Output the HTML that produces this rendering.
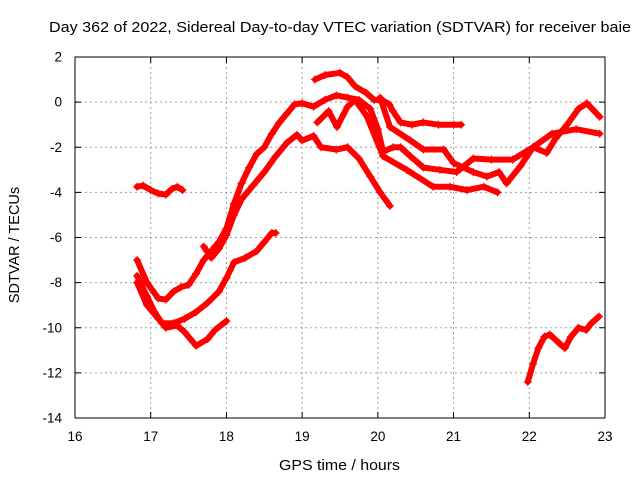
<!DOCTYPE html>
<html><head><meta charset="utf-8"><style>
body{margin:0;background:#fff}
svg{display:block;font-family:"Liberation Sans",sans-serif}
</style></head><body>
<svg id="chart" width="640" height="480">
<text x="49" y="32" font-size="15" textLength="582" lengthAdjust="spacingAndGlyphs">Day 362 of 2022, Sidereal Day-to-day VTEC variation (SDTVAR) for receiver baie</text>
<text x="279" y="470" font-size="15" textLength="121" lengthAdjust="spacingAndGlyphs">GPS time / hours</text>
<text x="19" y="245" font-size="14.5" text-anchor="middle" transform="rotate(-90 19 245)">SDTVAR / TECUs</text>
<g id="grid"></g><g id="series"></g>
<rect x="75" y="57" width="530" height="361" fill="none" stroke="#000"/>
</svg>
<script>
const xTicks=[16,17,18,19,20,21,22,23];
const yTicks=[2,0,-2,-4,-6,-8,-10,-12,-14];
const sA_t=[16.82,16.9,17.0,17.1,17.2,17.28,17.35,17.42];
const sA_v=[-3.75,-3.7,-3.9,-4.05,-4.1,-3.85,-3.75,-3.9];
const sB_t=[16.82,16.95,17.1,17.2,17.3,17.4,17.5,17.6,17.7,17.8,17.9,18.0,18.1,18.2,18.3,18.4,18.5,18.6,18.7,18.8,18.9,19.0,19.15,19.3,19.45,19.6,19.75,19.9,20.0,20.07,20.2,20.3,20.43,20.6,20.82,21.04,21.26,21.5,21.78,22.05,22.3,22.62,22.93];
const sB_v=[-7.0,-8.0,-8.7,-8.75,-8.4,-8.2,-8.1,-7.6,-7.0,-6.6,-6.2,-5.6,-4.5,-3.6,-2.9,-2.3,-2.0,-1.4,-0.9,-0.5,-0.1,-0.05,-0.2,0.1,0.3,0.2,0.1,-0.3,-1.2,-2.2,-2.0,-2.0,-2.4,-2.9,-3.0,-3.1,-2.5,-2.55,-2.55,-2.0,-1.4,-1.2,-1.4];
const sR_t=[17.7,17.8,17.9,18.0,18.1,18.2,18.35,18.5,18.65,18.8,18.93,19.0,19.15,19.25,19.45,19.6,19.75,19.9,20.03,20.16];
const sR_v=[-6.4,-6.9,-6.5,-5.9,-5.0,-4.3,-3.7,-3.1,-2.4,-1.8,-1.45,-1.7,-1.5,-2.0,-2.1,-2.0,-2.5,-3.3,-4.0,-4.6];
const sP_t=[19.17,19.3,19.5,19.6,19.7,19.85,19.95,20.05,20.15,20.2,20.3,20.45,20.6,20.8,21.0,21.1];
const sP_v=[1.0,1.2,1.3,1.1,0.7,0.4,0.1,0.1,-0.1,-0.4,-0.9,-1.0,-0.9,-1.0,-1.0,-1.0];
const sM_t=[19.2,19.35,19.46,19.6,19.7,19.85,20.07,20.38,20.73,20.95,21.18,21.4,21.58];
const sM_v=[-0.9,-0.4,-1.1,-0.2,0.1,-0.6,-2.4,-3.0,-3.75,-3.75,-3.9,-3.75,-4.0];
const sN_t=[20.03,20.16,20.43,20.6,20.87,21.0,21.26,21.44,21.6,21.7,21.88,22.05,22.23,22.35,22.5,22.65,22.76,22.93];
const sN_v=[0.2,-1.1,-1.7,-2.1,-2.1,-2.7,-3.1,-3.3,-3.1,-3.6,-2.85,-2.0,-2.25,-1.6,-1.0,-0.3,-0.05,-0.65];
const sL1_t=[16.82,16.95,17.05,17.15,17.3,17.45,17.6,17.75,17.9,18.0,18.1,18.25,18.4,18.5,18.6,18.65];
const sL1_v=[-7.7,-8.6,-9.3,-9.8,-9.8,-9.6,-9.3,-8.9,-8.4,-7.8,-7.1,-6.9,-6.6,-6.2,-5.8,-5.8];
const sL2_t=[16.82,16.95,17.1,17.2,17.35,17.45,17.6,17.75,17.85,18.0];
const sL2_v=[-8.0,-9.0,-9.6,-10.0,-9.9,-10.2,-10.8,-10.5,-10.1,-9.7];
const sZ_t=[21.98,22.05,22.12,22.2,22.27,22.4,22.47,22.55,22.65,22.75,22.82,22.92];
const sZ_v=[-12.4,-11.6,-10.9,-10.4,-10.3,-10.7,-10.9,-10.4,-10.0,-10.1,-9.8,-9.5];
const seriesList=[[sA_t,sA_v],[sB_t,sB_v],[sR_t,sR_v],[sP_t,sP_v],[sM_t,sM_v],[sN_t,sN_v],[sL1_t,sL1_v],[sL2_t,sL2_v],[sZ_t,sZ_v]];
const NS="http://www.w3.org/2000/svg";
const X=t=>75+(t-16)*530/7;
const Y=v=>57+(2-v)*361/16;
const grid=document.getElementById('grid'),ser=document.getElementById('series');
function mk(tag,attrs,parent){const e=document.createElementNS(NS,tag);for(const k in attrs)e.setAttribute(k,attrs[k]);parent.appendChild(e);return e;}
xTicks.forEach((t,i)=>{const x=X(t);
 if(i>0&&i<xTicks.length-1){const g=mk('line',{x1:x,x2:x,y1:57,y2:418,stroke:'#a0a0a0','stroke-dasharray':'2,3'},grid);
 
 }
 const tk=mk('path',{d:`M${x},418v-6M${x},57v6`,stroke:'#000'},grid);
 
 
 const l=mk('text',{x:x,y:441,'font-size':13.5,'text-anchor':'middle'},grid);l.textContent=t;
 
 
});
yTicks.forEach((v,i)=>{const y=Y(v);
 if(i>0&&i<yTicks.length-1){const g=mk('line',{x1:75,x2:605,y1:y,y2:y,stroke:'#a0a0a0','stroke-dasharray':'2,3'},grid);
 
 }
 const tk=mk('path',{d:`M75,${y}h6M605,${y}h-6`,stroke:'#000'},grid);
 
 
 const l=mk('text',{x:62,y:y+4.5,'font-size':13.5,'text-anchor':'end'},grid);l.textContent=v;
 
 
});
seriesList.forEach(([ts,vs],si)=>{
 const g=mk('g',{},ser);
 
 
 const pts=ts.map((t,i)=>X(t)+','+Y(vs[i])).join(' ');
 const pl=mk('polyline',{points:pts,fill:'none',stroke:'#ff0000','stroke-width':6,'stroke-linejoin':'round','stroke-linecap':'round'},g);
 
 
 ts.forEach((t,i)=>{const x=X(t),y=Y(vs[i]);
  const m=mk('path',{d:`M${x-4},${y}h8M${x},${y-4}v8`,stroke:'#ff0000','stroke-width':1.2},g);
  
  
 });
});
</script>
</body></html>
